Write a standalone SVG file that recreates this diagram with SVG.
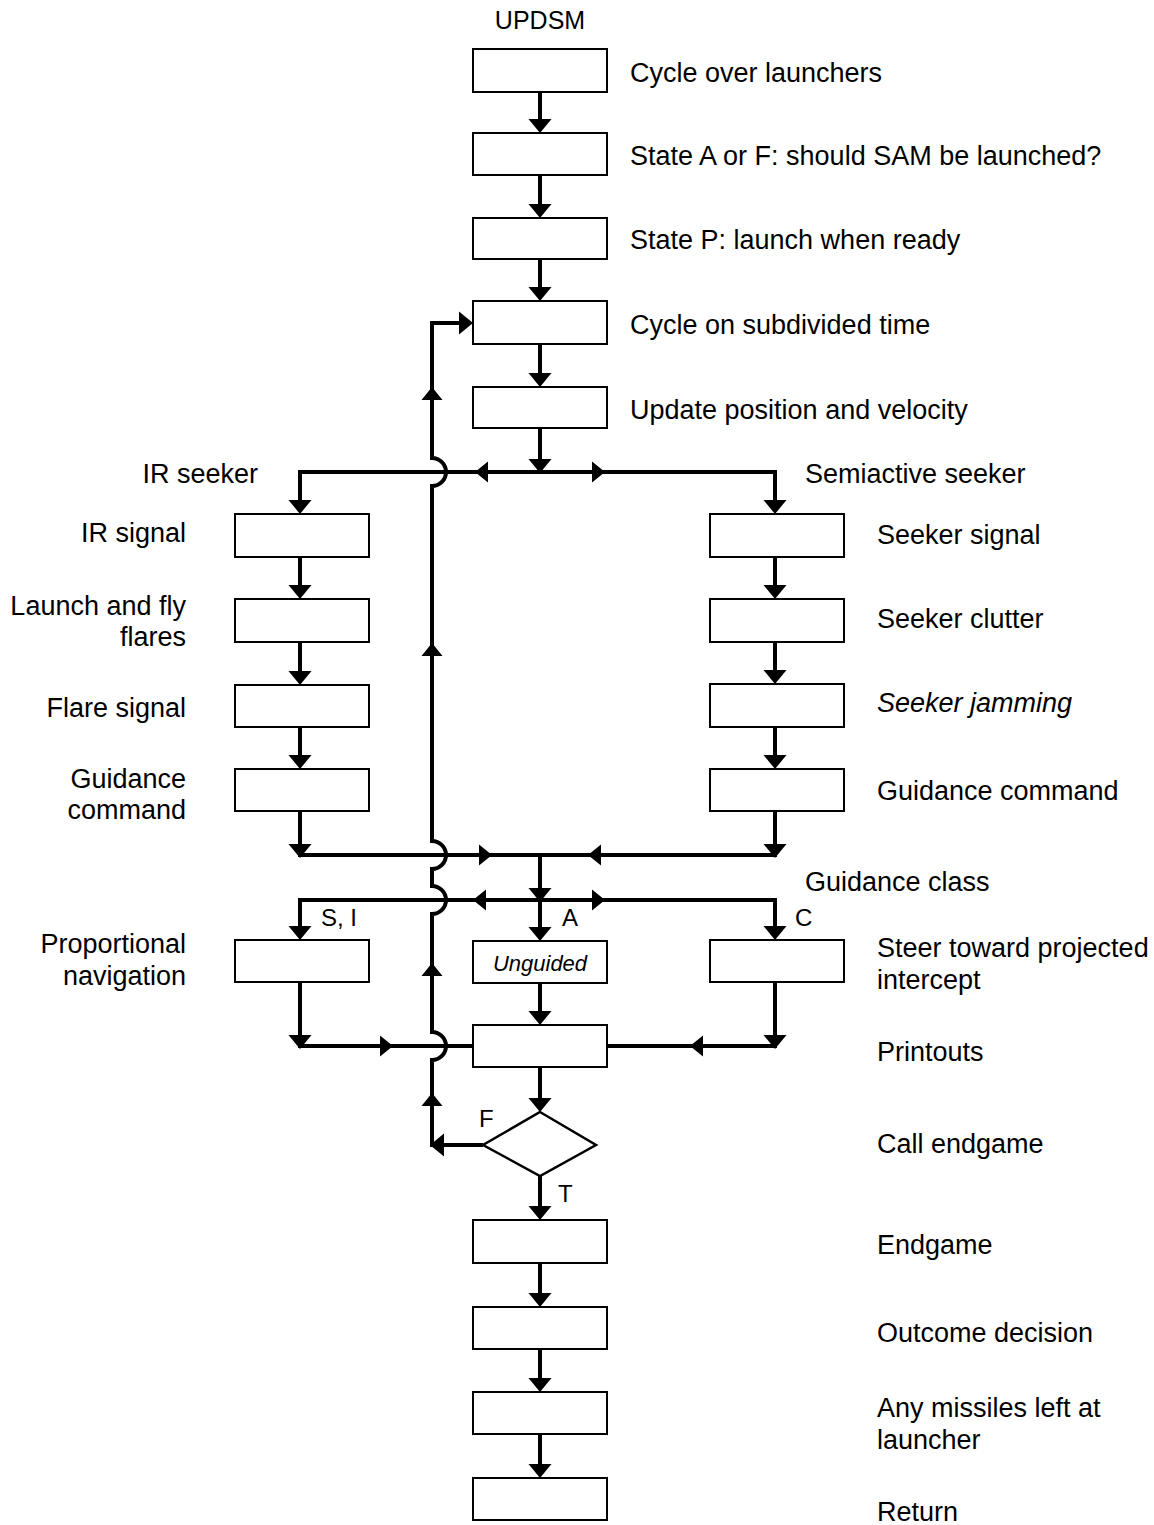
<svg xmlns="http://www.w3.org/2000/svg" xmlns:xlink="http://www.w3.org/1999/xlink" width="1154" height="1525" viewBox="0 0 1154 1525">
  <style>
    .box { fill: #fff; stroke: #000; stroke-width: 2; }
    .dia { fill: #fff; stroke: #000; stroke-width: 2.5; stroke-linejoin: miter; }
    .wire { fill: none; stroke: #000; stroke-width: 4; stroke-linejoin: miter; stroke-linecap: butt; }
    .ah { fill: #000; }
    text { font-family: "Liberation Sans", Arial, Helvetica, sans-serif; font-size: 27px; fill: #000; }
    .end { text-anchor: end; }
    .mid { text-anchor: middle; }
    .tag { font-size: 24px; }
    .it { font-style: italic; }
  </style>
  <defs>
    <!-- arrowhead pointing right, tip at the origin -->
    <path id="ah" class="ah" d="M0,0 L-14,-11.5 L-14,11.5 Z"/>
    <!-- slightly smaller head used along through-lines -->
    <path id="am" class="ah" d="M0,0 L-13,-10.5 L-13,10.5 Z"/>
  </defs>

  <rect width="1154" height="1525" fill="#fff"/>

  <!-- connectors -->
  <g id="connectors">
    <!-- main column -->
    <path class="wire" d="M540,92 V127 M540,175 V212 M540,259 V295 M540,344 V381 M540,428 V466"/>
    <use href="#ah" transform="translate(540,133) rotate(90)"/>
    <use href="#ah" transform="translate(540,218) rotate(90)"/>
    <use href="#ah" transform="translate(540,301) rotate(90)"/>
    <use href="#ah" transform="translate(540,387) rotate(90)"/>
    <use href="#ah" transform="translate(540,473) rotate(90)"/>

    <!-- seeker split -->
    <path class="wire" d="M300,508 V472 H775 V508"/>
    <use href="#ah" transform="translate(300,514) rotate(90)"/>
    <use href="#ah" transform="translate(775,514) rotate(90)"/>
    <use href="#am" transform="translate(475,472) rotate(180)"/>
    <use href="#am" transform="translate(605,472)"/>

    <!-- IR seeker branch -->
    <path class="wire" d="M300,557 V593 M300,642 V679 M300,727 V763"/>
    <use href="#ah" transform="translate(300,599) rotate(90)"/>
    <use href="#ah" transform="translate(300,685) rotate(90)"/>
    <use href="#ah" transform="translate(300,769) rotate(90)"/>

    <!-- semiactive seeker branch -->
    <path class="wire" d="M775,557 V593 M775,642 V678 M775,727 V763"/>
    <use href="#ah" transform="translate(775,599) rotate(90)"/>
    <use href="#ah" transform="translate(775,684) rotate(90)"/>
    <use href="#ah" transform="translate(775,769) rotate(90)"/>

    <!-- branches rejoin -->
    <path class="wire" d="M300,811 V855 H775 V811"/>
    <use href="#ah" transform="translate(300,858) rotate(90)"/>
    <use href="#ah" transform="translate(775,858) rotate(90)"/>
    <use href="#am" transform="translate(492,855)"/>
    <use href="#am" transform="translate(588,855) rotate(180)"/>
    <path class="wire" d="M540,855 V894"/>
    <use href="#ah" transform="translate(540,902) rotate(90)"/>

    <!-- guidance class split -->
    <path class="wire" d="M300,934 V900 H775 V934"/>
    <use href="#ah" transform="translate(300,940) rotate(90)"/>
    <use href="#ah" transform="translate(775,940) rotate(90)"/>
    <use href="#am" transform="translate(473,900) rotate(180)"/>
    <use href="#am" transform="translate(605,900)"/>
    <path class="wire" d="M540,900 V935"/>
    <use href="#ah" transform="translate(540,941) rotate(90)"/>

    <!-- into printouts -->
    <path class="wire" d="M300,982 V1046 H473"/>
    <use href="#ah" transform="translate(300,1049) rotate(90)"/>
    <use href="#am" transform="translate(393,1046)"/>
    <path class="wire" d="M775,982 V1046 H607"/>
    <use href="#ah" transform="translate(775,1049) rotate(90)"/>
    <use href="#am" transform="translate(690,1046) rotate(180)"/>
    <path class="wire" d="M540,983 V1019"/>
    <use href="#ah" transform="translate(540,1025) rotate(90)"/>
    <path class="wire" d="M540,1067 V1106"/>
    <use href="#ah" transform="translate(540,1112) rotate(90)"/>

    <!-- F: loop back to subdivided-time cycle, hopping over crossings -->
    <path class="wire" d="M483,1145 H432 V1060 A14,14 0 0 0 432,1032 V914 A14,14 0 0 0 432,886 V869 A14,14 0 0 0 432,841 V486 A14,14 0 0 0 432,458 V323 H467"/>
    <use href="#ah" transform="translate(430,1145) rotate(180)"/>
    <use href="#am" transform="translate(432,1093) rotate(-90)"/>
    <use href="#am" transform="translate(432,963) rotate(-90)"/>
    <use href="#am" transform="translate(432,643) rotate(-90)"/>
    <use href="#am" transform="translate(432,387) rotate(-90)"/>
    <use href="#ah" transform="translate(473,323)"/>

    <!-- T: endgame chain -->
    <path class="wire" d="M540,1176 V1214 M540,1263 V1301 M540,1349 V1386 M540,1434 V1472"/>
    <use href="#ah" transform="translate(540,1220) rotate(90)"/>
    <use href="#ah" transform="translate(540,1307) rotate(90)"/>
    <use href="#ah" transform="translate(540,1392) rotate(90)"/>
    <use href="#ah" transform="translate(540,1478) rotate(90)"/>
  </g>

  <!-- edge labels -->
  <g id="edge-labels">
    <text x="540" y="29" class="mid" style="font-size:25px">UPDSM</text>
    <text x="258" y="483" class="end">IR seeker</text>
    <text x="805" y="483">Semiactive seeker</text>
    <text x="805" y="891">Guidance class</text>
    <text x="321" y="926" class="tag">S, I</text>
    <text x="562" y="926" class="tag">A</text>
    <text x="795" y="926" class="tag">C</text>
    <text x="479" y="1127" class="tag">F</text>
    <text x="558" y="1202" class="tag">T</text>
  </g>

  <!-- main column -->
  <g id="cycle-launchers">
    <rect class="box" x="473" y="49" width="134" height="43"/>
    <text x="630" y="82">Cycle over launchers</text>
  </g>
  <g id="state-af">
    <rect class="box" x="473" y="133" width="134" height="42"/>
    <text x="630" y="165">State A or F: should SAM be launched?</text>
  </g>
  <g id="state-p">
    <rect class="box" x="473" y="218" width="134" height="41"/>
    <text x="630" y="249">State P: launch when ready</text>
  </g>
  <g id="cycle-time">
    <rect class="box" x="473" y="301" width="134" height="43"/>
    <text x="630" y="334">Cycle on subdivided time</text>
  </g>
  <g id="update-pv">
    <rect class="box" x="473" y="387" width="134" height="41"/>
    <text x="630" y="419">Update position and velocity</text>
  </g>

  <!-- IR seeker branch -->
  <g id="ir-signal">
    <rect class="box" x="235" y="514" width="134" height="43"/>
    <text x="186" y="542" class="end">IR signal</text>
  </g>
  <g id="launch-flares">
    <rect class="box" x="235" y="599" width="134" height="43"/>
    <text x="186" y="615" class="end">Launch and fly</text>
    <text x="186" y="646" class="end">flares</text>
  </g>
  <g id="flare-signal">
    <rect class="box" x="235" y="685" width="134" height="42"/>
    <text x="186" y="717" class="end">Flare signal</text>
  </g>
  <g id="ir-guidance">
    <rect class="box" x="235" y="769" width="134" height="42"/>
    <text x="186" y="788" class="end">Guidance</text>
    <text x="186" y="819" class="end">command</text>
  </g>

  <!-- semiactive seeker branch -->
  <g id="seeker-signal">
    <rect class="box" x="710" y="514" width="134" height="43"/>
    <text x="877" y="544">Seeker signal</text>
  </g>
  <g id="seeker-clutter">
    <rect class="box" x="710" y="599" width="134" height="43"/>
    <text x="877" y="628">Seeker clutter</text>
  </g>
  <g id="seeker-jamming">
    <rect class="box" x="710" y="684" width="134" height="43"/>
    <text x="877" y="712" class="it">Seeker jamming</text>
  </g>
  <g id="sa-guidance">
    <rect class="box" x="710" y="769" width="134" height="42"/>
    <text x="877" y="800">Guidance command</text>
  </g>

  <!-- guidance classes -->
  <g id="prop-nav">
    <rect class="box" x="235" y="940" width="134" height="42"/>
    <text x="186" y="953" class="end">Proportional</text>
    <text x="186" y="985" class="end">navigation</text>
  </g>
  <g id="unguided">
    <rect class="box" x="473" y="941" width="134" height="42"/>
    <text x="540" y="971" class="mid it" style="font-size:22px">Unguided</text>
  </g>
  <g id="steer">
    <rect class="box" x="710" y="940" width="134" height="42"/>
    <text x="877" y="957">Steer toward projected</text>
    <text x="877" y="989">intercept</text>
  </g>

  <g id="printouts">
    <rect class="box" x="473" y="1025" width="134" height="42"/>
    <text x="877" y="1061">Printouts</text>
  </g>
  <g id="call-endgame">
    <polygon class="dia" points="540,1112 596,1145 540,1176 483,1145"/>
    <text x="877" y="1153">Call endgame</text>
  </g>
  <g id="endgame">
    <rect class="box" x="473" y="1220" width="134" height="43"/>
    <text x="877" y="1254">Endgame</text>
  </g>
  <g id="outcome">
    <rect class="box" x="473" y="1307" width="134" height="42"/>
    <text x="877" y="1342">Outcome decision</text>
  </g>
  <g id="missiles-left">
    <rect class="box" x="473" y="1392" width="134" height="42"/>
    <text x="877" y="1417">Any missiles left at</text>
    <text x="877" y="1449">launcher</text>
  </g>
  <g id="return">
    <rect class="box" x="473" y="1478" width="134" height="42"/>
    <text x="877" y="1521">Return</text>
  </g>
</svg>
